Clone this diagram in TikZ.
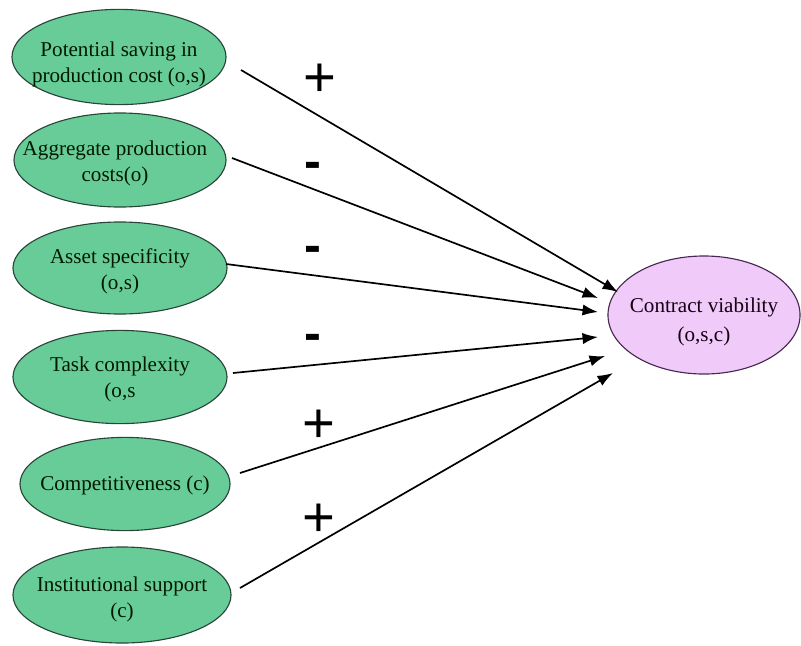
\documentclass[tikz,border=0pt]{standalone}
\usepackage{fontspec}
\setmainfont{Liberation Serif}
\newfontfamily\signfont{Liberation Sans}
\usetikzlibrary{shapes.geometric,arrows.meta}
\definecolor{greenfill}{RGB}{104,204,153}
\definecolor{pinkfill}{RGB}{240,202,248}
\definecolor{edgegreen}{RGB}{40,70,55}
\definecolor{edgepurple}{RGB}{70,40,80}
\tikzset{
  cause/.style={ellipse, draw=edgegreen, line width=0.8pt, fill=greenfill,
    inner sep=0pt},
  effect/.style={ellipse, draw=edgepurple, line width=0.8pt, fill=pinkfill,
    inner sep=0pt, minimum width=4.8cm, minimum height=2.95cm},
  ctext/.style={inner sep=0pt, align=center, text=black!90!green,
    font=\fontsize{15}{18.5}\selectfont},
  etext/.style={inner sep=0pt, align=center, text=black!85!violet,
    font=\fontsize{15}{20.5}\selectfont},
  arr/.style={line width=1.2pt, -{Latex[length=11pt,width=8pt]}},
  sign/.style={inner sep=0pt, font=\signfont\fontsize{40}{40}\selectfont},
  minus/.style={inner sep=0pt, font=\signfont\bfseries\fontsize{36}{36}\selectfont}
}
\begin{document}
\begin{tikzpicture}[x=0.025cm, y=-0.025cm]
\useasboundingbox (0,0) rectangle (801,645);
% causes
\node[cause, minimum width=5.35cm, minimum height=2.38cm] (p1) at (119,57) {};
\node[cause, minimum width=5.3cm, minimum height=2.35cm] (p2) at (120,160) {};
\node[cause, minimum width=5.35cm, minimum height=2.3cm] (p3) at (120,268) {};
\node[cause, minimum width=5.35cm, minimum height=2.33cm] (p4) at (120,377) {};
\node[cause, minimum width=5.25cm, minimum height=2.33cm] (p5) at (125,484) {};
\node[cause, minimum width=5.45cm, minimum height=2.4cm] (p6) at (122,595) {};
\node[ctext] (t1) at ([shift={(0,7)}]p1.center) {Potential saving in\\production cost (o,s)};
\node[ctext] (t2) at ([shift={(-5,3)}]p2.center) {Aggregate production\\costs(o)};
\node[ctext] (t3) at ([shift={(0,3)}]p3.center) {Asset specificity\\(o,s)};
\node[ctext] (t4) at ([shift={(0,2)}]p4.center) {Task complexity\\(o,s};
\node[ctext] (t5) at ([shift={(0,1)}]p5.center) {Competitiveness (c)};
\node[ctext] (t6) at ([shift={(0,4)}]p6.center) {Institutional support\\(c)};
% effect
\node[effect] (cv) at (704,315) {};
\node[etext] (tcv) at ([shift={(0,7)}]cv.center) {Contract viability\\(o,s,c)};
% connectors
\draw[arr] ([shift={(122,13)}]p1.center) -- ([shift={(-86,-23)}]cv.center);
\draw[arr] ([shift={(112,-2)}]p2.center) -- ([shift={(-106,-17)}]cv.center);
\draw[arr] ([shift={(106,-4)}]p3.center) -- ([shift={(-106,-3)}]cv.center);
\draw[arr] ([shift={(113,-4)}]p4.center) -- ([shift={(-106,22)}]cv.center);
\draw[arr] ([shift={(115,-11)}]p5.center) -- ([shift={(-99,41)}]cv.center);
\draw[arr] ([shift={(118,-7)}]p6.center) -- ([shift={(-91,58)}]cv.center);
% signs
\node[sign] (s1) at (320,80) {+};
\node[minus] (s2) at (313,170) {-};
\node[minus] (s3) at (313,254) {-};
\node[minus] (s4) at (313,342) {-};
\node[sign] (s5) at (319,426) {+};
\node[sign] (s6) at (319,520) {+};
\end{tikzpicture}
\end{document}
